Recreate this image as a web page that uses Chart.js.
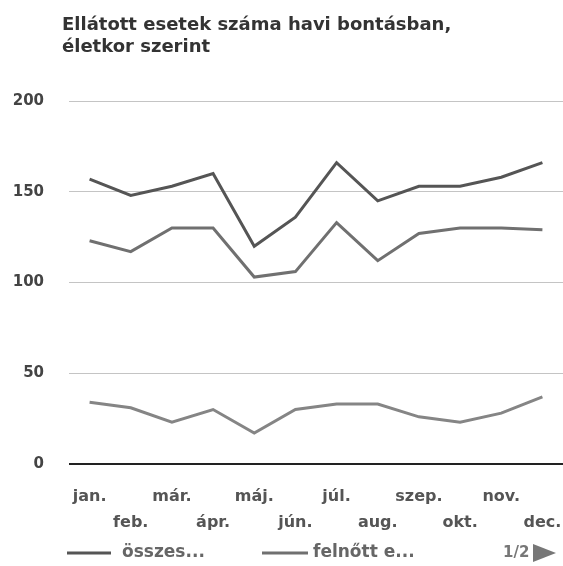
<!DOCTYPE html>
<html>
<head>
<meta charset="utf-8">
<script src="https://cdn.jsdelivr.net/npm/chart.js@4.4.1/dist/chart.umd.min.js"></script>
<style>
  html, body { margin: 0; padding: 0; background: #fff; }
</style>
</head>
<body>
<canvas id="cases" width="563" height="566"></canvas>
<script>
// --- DATA ---
const MONTHS = ['jan.', 'feb.', 'már.', 'ápr.', 'máj.', 'jún.', 'júl.', 'aug.', 'szep.', 'okt.', 'nov.', 'dec.'];
const OSSZES = [157, 148, 153, 160, 120, 136, 166, 145, 153, 153, 158, 166];
const FELNOTT = [123, 117, 130, 130, 103, 106, 133, 112, 127, 130, 130, 129];
const GYERMEK = [34, 31, 23, 30, 17, 30, 33, 33, 26, 23, 28, 37];
const SERIES_NAMES = ['összes', 'felnőtt', 'gyermek'];
const LEGEND_TEXT = ['összes...', 'felnőtt e...'];
const Y_TICKS = [0, 50, 100, 150, 200];
const TITLE_LINES = ['Ellátott esetek száma havi bontásban,', 'életkor szerint'];

const FONT = 'DejaVu Sans';
const LINE_COLORS = ['#555', '#707070', '#858585'];

// months alternate between two label rows
const twoRowLabels = MONTHS.map((m, i) => (i % 2 === 0 ? [m, ''] : ['', m]));

// title, legend and pager are drawn straight onto the canvas
const extrasPlugin = {
    id: 'extras',
    afterDraw(chart) {
        const ctx = chart.ctx;
        ctx.save();
        ctx.textBaseline = 'alphabetic';
        ctx.textAlign = 'left';
        ctx.fillStyle = '#333';
        ctx.font = `bold 18px "${FONT}"`;
        ctx.fillText(TITLE_LINES[0], 62, 30);
        ctx.fillText(TITLE_LINES[1], 62, 52);

        // legend
        const y = 553;
        const items = [{ x: 67, w: 44, tx: 122 }, { x: 262, w: 46, tx: 313 }];
        items.forEach((it, i) => {
            ctx.strokeStyle = LINE_COLORS[i];
            ctx.lineWidth = 3;
            ctx.beginPath();
            ctx.moveTo(it.x, y);
            ctx.lineTo(it.x + it.w, y);
            ctx.stroke();
            ctx.fillStyle = '#666';
            ctx.font = `bold 17px "${FONT}"`;
            ctx.textBaseline = 'middle';
            ctx.fillText(LEGEND_TEXT[i], it.tx, y);
        });

        // pager
        ctx.fillStyle = '#777';
        ctx.font = `bold 15px "${FONT}"`;
        ctx.fillText('1/2', 503, y);
        ctx.beginPath();
        ctx.moveTo(533, y - 9);
        ctx.lineTo(556, y);
        ctx.lineTo(533, y + 9);
        ctx.closePath();
        ctx.fill();
        ctx.restore();
    }
};

function makeDataset(label, data, color) {
    return {
        label: label,
        data: data,
        borderColor: color,
        backgroundColor: color,
        borderWidth: 3,
        pointRadius: 0,
        tension: 0,
        fill: false
    };
}

new Chart(document.getElementById('cases'), {
    type: 'line',
    data: {
        labels: twoRowLabels,
        datasets: [
            makeDataset(SERIES_NAMES[0], OSSZES, LINE_COLORS[0]),
            makeDataset(SERIES_NAMES[1], FELNOTT, LINE_COLORS[1]),
            makeDataset(SERIES_NAMES[2], GYERMEK, LINE_COLORS[2])
        ]
    },
    options: {
        responsive: false,
        devicePixelRatio: 1,
        animation: false,
        layout: { padding: { top: 101, bottom: 30, left: 0, right: 0 } },
        plugins: {
            legend: { display: false },
            tooltip: { enabled: false }
        },
        scales: {
            x: {
                offset: true,
                grid: { display: false },
                border: { display: false },
                afterFit: (scale) => {
                    scale.height = 72;
                    scale.paddingLeft = 0;
                    scale.paddingRight = 0;
                },
                ticks: {
                    autoSkip: false,
                    maxRotation: 0,
                    padding: 12,
                    color: '#555',
                    font: { family: FONT, size: 16, weight: 'bold', lineHeight: '26px' }
                }
            },
            y: {
                min: Y_TICKS[0],
                max: Y_TICKS[Y_TICKS.length - 1],
                afterBuildTicks: (scale) => { scale.ticks = Y_TICKS.map(v => ({ value: v })); },
                afterFit: (scale) => { scale.width = 69; },
                border: { display: false },
                grid: {
                    drawTicks: false,
                    color: (c) => (c.tick.value === 0 ? '#222' : '#c4c4c4'),
                    lineWidth: (c) => (c.tick.value === 0 ? 2 : 1)
                },
                ticks: {
                    padding: 25,
                    color: '#444',
                    font: { family: FONT, size: 15, weight: 'bold' }
                }
            }
        }
    },
    plugins: [extrasPlugin]
});
</script>
</body>
</html>
